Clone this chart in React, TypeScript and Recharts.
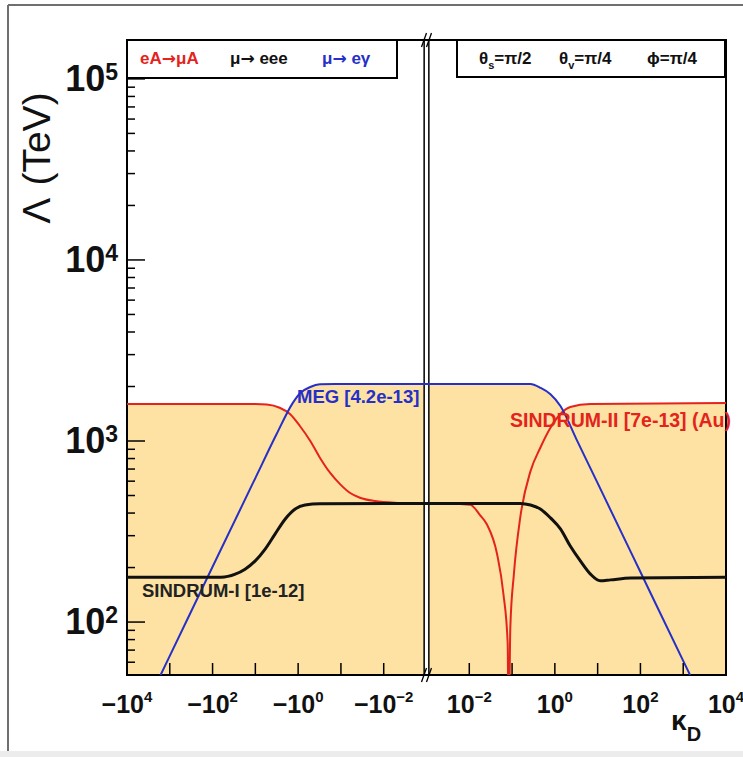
import { ComposedChart, Area, Line, XAxis, YAxis, ReferenceArea, ReferenceDot } from "recharts";

const FONT = "'Liberation Sans', Arial, Helvetica, sans-serif";
const ARROW_FONT = "'DejaVu Sans', sans-serif";
const FILL = "#fde2a3";
const RED = "#e4231c";
const BLUE = "#2630c8";

const redKappa = [
  -1e4, -10, -5.4, -2.7, -1.55, -0.91, -0.52, -0.31, -0.18, -0.105, -0.062, -0.036, -0.016, -0.0042, -0.001,
  0.001, 0.0035, 0.0105, 0.0178, 0.0257, 0.0447, 0.063, 0.079, 0.083, 0.091, 0.11, 0.155, 0.27, 0.457, 0.79,
  1.35, 2.29, 6.8, 1e4,
];
const redLambda = [
  1600, 1600, 1590, 1527, 1410, 1210, 1000, 809, 668, 578, 518, 486, 466, 455, 450,
  450, 450, 445, 390, 347, 237, 142, 76, 20, 93, 183, 377, 682, 918, 1184,
  1410, 1540, 1600, 1620,
];

const blueKappa = [
  -1e4, -1000, -100, -10, -3.16, -1.32, -0.89, -0.52, -0.31, -0.135, -0.001,
  0.001, 0.27, 0.457, 0.79, 1.35, 3.16, 10, 100, 1000, 1e4,
];
const blueLambda = [
  21, 65, 202, 624, 1096, 1630, 1842, 1987, 2055, 2065, 2065,
  2065, 2065, 1968, 1812, 1560, 1028, 585, 189, 61, 20,
];

const blackKappa = [
  -1e4, -63, -29.5, -17.4, -10.2, -5.9, -3.47, -2.0, -1.17, -0.69, -0.31, -0.001,
  0.001, 0.155, 0.27, 0.457, 0.79, 1.35, 2.29, 3.98, 6.8, 11.5, 20, 59, 1e4,
];
const blackLambda = [
  177, 177, 184, 196, 217, 253, 306, 371, 421, 443, 450, 452,
  452, 452, 443, 421, 376, 327, 263, 217, 184, 169, 171, 175, 177,
];

const xLabelKappa = [-1e4, -1e2, -1, -1e-2, 1e-2, 1, 1e2, 1e4];
const xMinorKappa = [-1e3, -10, -0.1, 0.1, 10, 1e3];
const yMajor = [1e2, 1e3, 1e4, 1e5];
const yDomain = [51, 164000];

// broken axis: left panel -1e4 .. -1e-3, right panel 1e-3 .. 1e4, one decade per unit
const toU = (k: number) => (k < 0 ? 4 - Math.log10(-k) : 10 + Math.log10(k));
const BREAK_U = 7;
const GAP = 0.055;

const rows = [
  ...redKappa.map((k, i) => ({ u: toU(k), red: redLambda[i] })),
  ...blueKappa.map((k, i) => ({ u: toU(k), blue: blueLambda[i] })),
  ...blackKappa.map((k, i) => ({ u: toU(k), black: blackLambda[i] })),
].sort((a, b) => a.u - b.u);

const xLabelU = xLabelKappa.map(toU);
const xTicks = [...xLabelU, ...xMinorKappa.map(toU)].sort((a, b) => a - b);
const yMinor = [1e1, 1e2, 1e3, 1e4, 1e5]
  .flatMap((d) => [2, 3, 4, 5, 6, 7, 8, 9].map((m) => d * m))
  .filter((v) => v > yDomain[0] && v < yDomain[1]);
const yTicks = [...yMajor, ...yMinor].sort((a, b) => a - b);

const sup = (n: number) => String(n).replace("-", "\u2212");

function XTick(props: any) {
  const { x, y, payload } = props;
  const i = xLabelU.findIndex((u) => Math.abs(u - payload.value) < 1e-6);
  const k = xLabelKappa[i];
  return (
    <g>
      <line x1={x} x2={x} y1={y} y2={y - 12} stroke="#000" strokeWidth={1.5} />
      {i >= 0 && (
        <text x={x} y={y + 38} textAnchor="middle" fontFamily={FONT} fontWeight="bold" fontSize={25} fill="#111">
          <tspan>{k < 0 ? "\u221210" : "10"}</tspan>
          <tspan dy={-11} fontSize={15}>{sup(Math.round(Math.log10(Math.abs(k))))}</tspan>
        </text>
      )}
    </g>
  );
}

function YTick(props: any) {
  const { x, y, payload } = props;
  const major = yMajor.includes(payload.value);
  return (
    <g>
      <line x1={x} x2={x + (major ? 18 : 8)} y1={y} y2={y} stroke="#000" strokeWidth={1.5} />
      {major && (
        <text x={x - 9} y={y + 12} textAnchor="end" fontFamily={FONT} fontWeight="bold" fontSize={36} fill="#111">
          <tspan>10</tspan>
          <tspan dy={-11} fontSize={23}>{Math.round(Math.log10(payload.value))}</tspan>
        </text>
      )}
    </g>
  );
}

const breakMark = (p: any) => (
  <g>
    <line x1={p.cx - 5} y1={p.cy + 7} x2={p.cx} y2={p.cy - 7} stroke="#000" strokeWidth={1.3} />
    <line x1={p.cx} y1={p.cy + 7} x2={p.cx + 5} y2={p.cy - 7} stroke="#000" strokeWidth={1.3} />
  </g>
);

export default function App() {
  return (
    <div style={{ position: "absolute", left: 0, top: 0, width: 743, height: 757, background: "#fff", overflow: "hidden" }}>
      <ComposedChart width={743} height={757} data={rows} margin={{ top: 40, right: 17, bottom: 0, left: 0 }}>
        <Area type="monotone" dataKey="red" connectNulls stroke="none" fill={FILL} fillOpacity={1} baseValue={yDomain[0]} isAnimationActive={false} />
        <Area type="monotone" dataKey="blue" connectNulls stroke="none" fill={FILL} fillOpacity={1} baseValue={yDomain[0]} isAnimationActive={false} />
        <Area type="monotone" dataKey="black" connectNulls stroke="none" fill={FILL} fillOpacity={1} baseValue={yDomain[0]} isAnimationActive={false} />
        <Line type="monotone" dataKey="red" connectNulls stroke={RED} strokeWidth={2} dot={false} isAnimationActive={false} />
        <Line type="monotone" dataKey="blue" connectNulls stroke={BLUE} strokeWidth={2} dot={false} isAnimationActive={false} />
        <Line type="monotone" dataKey="black" connectNulls stroke="#111" strokeWidth={3} dot={false} isAnimationActive={false} />
        <ReferenceArea x1={BREAK_U - GAP} x2={BREAK_U + GAP} y1={yDomain[0]} y2={yDomain[1]} fill="#fff" fillOpacity={1} stroke="#000" strokeWidth={1.5} ifOverflow="visible" />
        <ReferenceArea x1={0} x2={14} y1={yDomain[0]} y2={yDomain[1]} fill="none" stroke="#000" strokeWidth={2} ifOverflow="visible" />
        <ReferenceDot x={BREAK_U} y={yDomain[1]} ifOverflow="visible" shape={breakMark} />
        <ReferenceDot x={BREAK_U} y={yDomain[0]} ifOverflow="visible" shape={breakMark} />
        <XAxis type="number" dataKey="u" domain={[0, 14]} allowDataOverflow ticks={xTicks} interval={0}
          tick={(p: any) => <XTick {...p} />} tickLine={false} axisLine={false} tickSize={0} tickMargin={0} height={82} />
        <YAxis type="number" scale="log" domain={yDomain} allowDataOverflow ticks={yTicks} interval={0}
          tick={(p: any) => <YTick {...p} />} tickLine={false} axisLine={false} tickSize={0} tickMargin={0} width={127} />
      </ComposedChart>

      <svg width={743} height={757} style={{ position: "absolute", left: 0, top: 0, pointerEvents: "none" }} fontFamily={FONT}>
        <line x1={8} y1={5} x2={8} y2={751} stroke="#6f6f6f" strokeWidth={2} />
        <line x1={8} y1={5} x2={743} y2={5} stroke="#6f6f6f" strokeWidth={2} />
        <rect x={0} y={751} width={743} height={6} fill="#ececec" />

        <rect x={127} y={40} width={270} height={38} fill="#fff" stroke="#000" strokeWidth={2} />
        <text y={64} fontSize={17} fontWeight="bold">
          <tspan x={140} fill={RED}>eA</tspan>
          <tspan fill={RED} fontFamily={ARROW_FONT}>→</tspan>
          <tspan fill={RED}>μA</tspan>
          <tspan x={230} fill="#111">μ</tspan>
          <tspan fill="#111" fontFamily={ARROW_FONT}>→</tspan>
          <tspan fill="#111"> eee</tspan>
          <tspan x={322} fill={BLUE}>μ</tspan>
          <tspan fill={BLUE} fontFamily={ARROW_FONT}>→</tspan>
          <tspan fill={BLUE}> eγ</tspan>
        </text>

        <rect x={457} y={40} width={268} height={37} fill="#fff" stroke="#000" strokeWidth={2} />
        <text y={64} fontSize={17} fontWeight="bold" fill="#111">
          <tspan x={479}>θ</tspan><tspan dy={5} fontSize={11}>s</tspan><tspan dy={-5}>=π/2</tspan>
          <tspan x={559}>θ</tspan><tspan dy={5} fontSize={11}>v</tspan><tspan dy={-5}>=π/4</tspan>
          <tspan x={647}>ϕ=π/4</tspan>
        </text>

        <text x={297} y={403} fontSize={18.5} fontWeight="bold" fill={BLUE}>MEG [4.2e-13]</text>
        <text x={142} y={597} fontSize={18.5} fontWeight="bold" fill="#222">SINDRUM-I [1e-12]</text>
        <text x={510} y={427} fontSize={19.5} fontWeight="bold" fill={RED}>SINDRUM-II [7e-13] (Au)</text>

        <text transform="translate(50,158) rotate(-90)" textAnchor="middle" fontSize={39} fill="#111">
          Λ<tspan dx={12}>(TeV)</tspan>
        </text>
        <text x={671} y={730} fontSize={28} fontWeight="bold" fill="#111">
          κ<tspan dy={11} fontSize={20}>D</tspan>
        </text>
      </svg>
    </div>
  );
}
